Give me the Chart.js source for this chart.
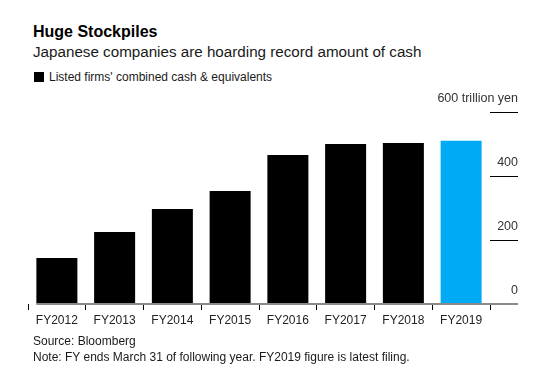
<!DOCTYPE html>
<html>
<head>
<meta charset="utf-8">
<script src="https://cdn.jsdelivr.net/npm/chart.js@4"></script>
<style>
    body { margin: 0; width: 544px; height: 372px; background: #fff; position: relative; overflow: hidden;
           font-family: "Liberation Sans", Arial, Helvetica, sans-serif; color: #111; }
    .txt { position: absolute; left: 33px; white-space: nowrap; }
    #title { top: 24px; font-size: 16px; line-height: 16px; font-weight: bold; color: #000; }
    #subtitle { top: 43.5px; font-size: 15.2px; line-height: 15px; color: #1a1a1a; }
    #legend { top: 71px; left: 49px; font-size: 12px; line-height: 12px; color: #1a1a1a; }
    #legend-box { position: absolute; left: 34px; top: 72px; width: 10px; height: 10px; background: #000; }
    #source { top: 335px; font-size: 12px; line-height: 12px; color: #1a1a1a; }
    #note { top: 350.5px; font-size: 12px; line-height: 12px; color: #1a1a1a; }
    #chart { position: absolute; left: 0; top: 85px; }
</style>
</head>
<body>
<div class="txt" id="title">Huge Stockpiles</div>
<div class="txt" id="subtitle">Japanese companies are hoarding record amount of cash</div>
<div id="legend-box"></div>
<div class="txt" id="legend">Listed firms' combined cash &amp; equivalents</div>
<canvas id="chart" width="544" height="250"></canvas>
<div class="txt" id="source">Source: Bloomberg</div>
<div class="txt" id="note">Note: FY ends March 31 of following year. FY2019 figure is latest filing.</div>

<script>
var years = ['FY2012', 'FY2013', 'FY2014', 'FY2015', 'FY2016', 'FY2017', 'FY2018', 'FY2019'];
var cashTrillionYen = [144, 225, 297, 353, 466, 500, 503, 510];
var yTicks = [0, 200, 400, 600];
var yUnit = 'trillion yen';

var barColors = years.map((y, i) => i === years.length - 1 ? '#00aaf5' : '#000000');

// gray baseline running from the first bar to the end of the right axis
var baselinePlugin = {
    id: 'baseline',
    afterDatasetsDraw(chart) {
        var first = chart.getDatasetMeta(0).data[0];
        var y = chart.scales.y.getPixelForValue(0);
        var ctx = chart.ctx;
        ctx.save();
        ctx.strokeStyle = '#8a8a8a';
        ctx.lineWidth = 2;
        ctx.beginPath();
        ctx.moveTo(first.x - first.width / 2, y);
        ctx.lineTo(chart.scales.y.right, y);
        ctx.stroke();
        ctx.restore();
    }
};

var font = "'Liberation Sans', Arial, Helvetica, sans-serif";

new Chart(document.getElementById('chart').getContext('2d'), {
    type: 'bar',
    data: {
        labels: years,
        datasets: [{
            label: "Listed firms' combined cash & equivalents",
            data: cashTrillionYen,
            backgroundColor: barColors,
            borderWidth: 0,
            barPercentage: 0.71,
            categoryPercentage: 1
        }]
    },
    options: {
        responsive: false,
        animation: false,
        devicePixelRatio: 1,
        layout: { padding: { left: 28, right: 26, top: 27, bottom: 0 } },
        plugins: { legend: { display: false }, tooltip: { enabled: false } },
        scales: {
            x: {
                grid: { drawOnChartArea: false, drawTicks: true, tickLength: 6, color: '#000', lineWidth: 1 },
                border: { display: false },
                ticks: { color: '#222', padding: 3, font: { family: font, size: 12 }, maxRotation: 0 },
                afterFit(scale) { scale.height = 31; }
            },
            y: {
                position: 'right',
                min: 0,
                max: 600,
                afterBuildTicks(scale) { scale.ticks = yTicks.map(v => ({ value: v })); },
                grid: {
                    drawOnChartArea: false,
                    drawTicks: true,
                    tickLength: 28,
                    color: ctx => ctx.tick && ctx.tick.value === 0 ? 'rgba(0,0,0,0)' : '#000',
                    lineWidth: 1
                },
                border: { display: false },
                ticks: {
                    mirror: true,
                    padding: 28,
                    labelOffset: -13,
                    color: '#333',
                    font: { family: font, size: 12.5 },
                    callback: v => v === 600 ? v + ' ' + yUnit : v
                },
                afterFit(scale) {
                    scale.width = 28;
                    scale.paddingTop = 0;
                    scale.paddingBottom = 0;
                }
            }
        }
    },
    plugins: [baselinePlugin]
});
</script>
</body>
</html>
